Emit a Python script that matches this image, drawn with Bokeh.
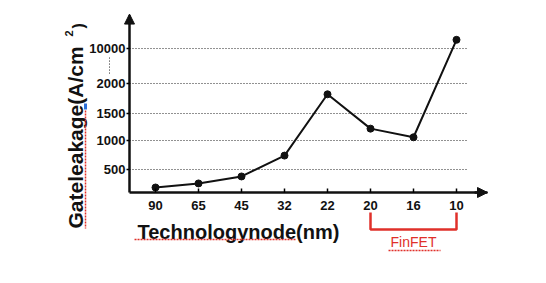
import numpy as np
from bokeh.plotting import figure
from bokeh.models import (Range1d, FixedTicker, Label, Arrow, NormalHead)
from bokeh.embed import file_html
from bokeh.resources import INLINE

# ---- data ----
nodes = ["90", "65", "45", "32", "22", "20", "16", "10"]
leakage = [190, 260, 380, 740, 1820, 1220, 1060, 12000]   # A/cm^2
y_tick_values = [500, 1000, 1500, 2000, 10000]
y_tick_labels = ["500", "1000", "1500", "2000", "10000"]
finfet_nodes = ["20", "10"]

# broken (piecewise) value axis: value -> display position
brk_values = [0, 500, 1000, 1500, 2000, 10000, 14000]
brk_pos = [0.0, 1.0, 2.0, 2.931, 3.966, 5.172, 5.772]


def ymap(v):
    return np.interp(v, brk_values, brk_pos)


xs = list(range(len(nodes)))
ys = list(ymap(leakage))
ytick_pos = [float(v) for v in ymap(y_tick_values)]

FONT = "Liberation Sans"
RED = "#e0302a"
INK = "#111111"

# plot area limits (display units)
X0, X1 = -0.6047, 7.721
Y0, Y1 = 0.2069, 6.310

p = figure(width=546, height=283, output_backend="svg", toolbar_location=None,
           x_range=Range1d(-3.605, 9.093), y_range=Range1d(-2.931, 6.828),
           min_border=0, min_border_left=0, min_border_right=0,
           min_border_top=0, min_border_bottom=0)
p.outline_line_color = None
p.background_fill_color = "white"
p.border_fill_color = "white"
p.xgrid.visible = False
p.ygrid.visible = False

# axes (placed inside the frame)
xa = p.xaxis[0]
xa.fixed_location = Y0
xa.bounds = (X0, X1)
xa.ticker = FixedTicker(ticks=xs)
xa.major_label_overrides = {i: n for i, n in enumerate(nodes)}
xa.major_tick_in = 4
xa.major_tick_out = 0
xa.major_tick_line_width = 1.5
xa.minor_tick_line_color = None
xa.axis_line_width = 2.5
xa.axis_line_color = INK
xa.major_label_standoff = 8
xa.major_label_text_font = FONT
xa.major_label_text_font_style = "bold"
xa.major_label_text_font_size = "13px"
xa.major_label_text_color = INK

ya = p.yaxis[0]
ya.fixed_location = X0
ya.bounds = (Y0, Y1)
ya.ticker = FixedTicker(ticks=ytick_pos)
ya.major_label_overrides = {t: l for t, l in zip(ytick_pos, y_tick_labels)}
ya.major_tick_in = 0
ya.major_tick_out = 3
ya.major_tick_line_width = 1.5
ya.minor_tick_line_color = None
ya.axis_line_width = 2.5
ya.axis_line_color = INK
ya.major_label_standoff = 1
ya.major_label_text_font = FONT
ya.major_label_text_font_style = "bold"
ya.major_label_text_font_size = "13px"
ya.major_label_text_color = INK

# dotted grid lines (stop short of the arrow)
p.segment(x0=[X0] * len(ytick_pos), x1=[7.279] * len(ytick_pos),
          y0=ytick_pos, y1=ytick_pos, line_color="#222222", line_width=1,
          line_dash="1 2")

# axis arrow heads
p.add_layout(Arrow(x_start=X0, y_start=Y1 - 0.3, x_end=X0, y_end=Y1 + 0.05,
                   line_width=2.5, line_color=INK,
                   end=NormalHead(size=10, fill_color=INK, line_color=INK)))
p.add_layout(Arrow(x_start=X1 - 0.3, y_start=Y0, x_end=X1, y_end=Y0,
                   line_width=2.5, line_color=INK,
                   end=NormalHead(size=10, fill_color=INK, line_color=INK)))

# data
p.line(xs, ys, line_color=INK, line_width=2)
p.scatter(xs, ys, size=7, fill_color=INK, line_color=INK)

# axis break mark
p.add_layout(Arrow(x_start=-1.07, y_start=4.86, x_end=-1.07, y_end=4.28, end=None,
                   line_color="#222222", line_width=1, line_dash="1 2"))

# y title
p.add_layout(Label(x=-1.860, y=-1.034, text="Gateleakage(A/cm", angle=np.pi / 2,
                   text_font=FONT, text_font_style="bold", text_font_size="21px",
                   text_align="left", text_baseline="alphabetic", text_color=INK))
p.add_layout(Label(x=-2.005, y=5.69, text="2", angle=np.pi / 2,
                   text_font=FONT, text_font_style="bold", text_font_size="11px",
                   text_align="center", text_baseline="middle", text_color=INK))
p.add_layout(Label(x=-1.791, y=5.862, text=")", angle=np.pi / 2,
                   text_font=FONT, text_font_style="bold", text_font_size="16px",
                   text_align="left", text_baseline="alphabetic", text_color=INK))
# spell-check style underline and cursor mark
p.add_layout(Arrow(x_start=-1.628, y_start=3.034, x_end=-1.628, y_end=-1.034, end=None,
                   line_color=RED, line_width=1.5, line_dash="2 1"))
p.add_layout(Arrow(x_start=-1.628, y_start=3.276, x_end=-1.628, y_end=3.069, end=None,
                   line_color="#2a6fdb", line_width=3))

# x title
p.add_layout(Label(x=-0.4186, y=-1.172, text="Technologynode(nm)",
                   text_font=FONT, text_font_style="bold", text_font_size="20px",
                   text_align="left", text_baseline="alphabetic", text_color=INK))
p.add_layout(Arrow(x_start=-0.488, y_start=-1.414, x_end=3.256, y_end=-1.414, end=None,
                   line_color=RED, line_width=1.5, line_dash="2 1"))

# FinFET bracket
fx0 = nodes.index(finfet_nodes[0])
fx1 = nodes.index(finfet_nodes[1])
p.line([fx0, fx0, fx1, fx1], [-0.483, -1.069, -1.069, -0.483],
       line_color=RED, line_width=2.5)
p.add_layout(Label(x=(fx0 + fx1) / 2, y=-1.483, text="FinFET",
                   text_font=FONT, text_font_size="14px", text_align="center",
                   text_baseline="alphabetic", text_color=RED))
p.add_layout(Arrow(x_start=5.419, y_start=-1.793, x_end=6.628, y_end=-1.793, end=None,
                   line_color=RED, line_width=1.5, line_dash="2 1"))

open("out.html", "w").write(file_html(p, INLINE))
